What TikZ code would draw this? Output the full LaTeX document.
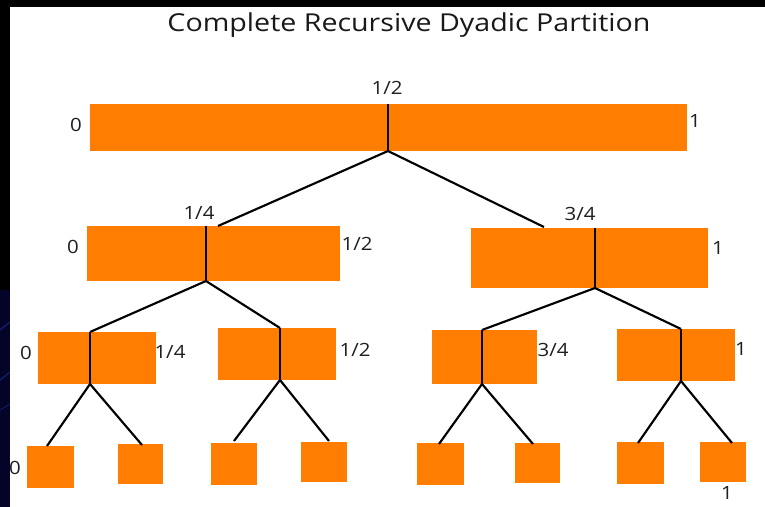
\documentclass[tikz,border=0pt]{standalone}
\usepackage{fontspec}
\setmainfont{Open Sans}
\usetikzlibrary{fit}
\definecolor{barorange}{RGB}{255,125,0}
\definecolor{navyband}{RGB}{4,4,40}
\definecolor{streak}{RGB}{20,30,110}
\begin{document}
\begin{tikzpicture}[x=0.75pt,y=-0.75pt,
  bar/.style={fill=barorange, draw=none, inner sep=0pt, outer sep=0pt},
  ln/.style={line width=1.6pt, black},
  lab/.style={font=\fontsize{13.7}{15}\selectfont, inner sep=0pt, text=black!88, xscale=1.12}]
\useasboundingbox (0,0) rectangle (765,507);
% frame / background
\fill[black] (0,0) rectangle (765,7);
\fill[black] (0,0) rectangle (10,507);
\fill[navyband] (0,290) rectangle (10,507);
\draw[streak, line width=1pt] (0,330) -- (10,322);
\draw[streak, line width=1pt] (0,380) -- (10,372);
\draw[streak, line width=0.6pt] (0,410) -- (10,404);
\fill[white] (10,7) rectangle (765,507);

% title
\node[font=\fontsize{18.5}{20}\selectfont, inner sep=0pt, xscale=1.16, text=black!90] (title) at (409,25) {Complete Recursive Dyadic Partition};

% level 0
\node[bar, fit={(90,104) (687,151)}] (n0) {};
\coordinate (d0t) at (388,104); \coordinate (d0b) at (388,151);
% level 1
\node[bar, fit={(87,226) (340,281)}] (n1a) {};
\coordinate (d1at) at (206,226); \coordinate (d1ab) at (206,281);
\node[bar, fit={(471,228) (708,288)}] (n1b) {};
\coordinate (d1bt) at (595,228); \coordinate (d1bb) at (595,288);
% level 2
\node[bar, fit={(38,332) (156,384)}] (n2a) {};
\coordinate (d2at) at (90,332); \coordinate (d2ab) at (90,384);
\node[bar, fit={(218,328) (336,380)}] (n2b) {};
\coordinate (d2bt) at (280,328); \coordinate (d2bb) at (280,380);
\node[bar, fit={(432,330) (537,384)}] (n2c) {};
\coordinate (d2ct) at (482,330); \coordinate (d2cb) at (482,384);
\node[bar, fit={(617,329) (735,381)}] (n2d) {};
\coordinate (d2dt) at (681,329); \coordinate (d2db) at (681,381);
% level 3
\node[bar, fit={(27,446) (74,488)}] (n3a) {};
\node[bar, fit={(118,444) (163,484)}] (n3b) {};
\node[bar, fit={(211,443) (257,485)}] (n3c) {};
\node[bar, fit={(301,442) (347,482)}] (n3d) {};
\node[bar, fit={(417,443) (464,485)}] (n3e) {};
\node[bar, fit={(515,443) (560,483)}] (n3f) {};
\node[bar, fit={(617,442) (664,484)}] (n3g) {};
\node[bar, fit={(700,442) (746,482)}] (n3h) {};

% connector ends
\coordinate (e1a) at (218,226); \coordinate (e1b) at (544,227);
\coordinate (e3a) at (47,446);  \coordinate (e3b) at (142,445);
\coordinate (e3c) at (234,441); \coordinate (e3d) at (329,441);
\coordinate (e3e) at (439,444); \coordinate (e3f) at (533,444);
\coordinate (e3g) at (638,443); \coordinate (e3h) at (732,443);

% dividers
\draw[ln] (d0t) -- (d0b);
\draw[ln] (d1at) -- (d1ab);
\draw[ln] (d1bt) -- (d1bb);
\draw[ln] (d2at) -- (d2ab);
\draw[ln] (d2bt) -- (d2bb);
\draw[ln] (d2ct) -- (d2cb);
\draw[ln] (d2dt) -- (d2db);

% tree connectors
\draw[ln] (d0b) -- (e1a);
\draw[ln] (d0b) -- (e1b);
\draw[ln] (d1ab) -- (d2at);
\draw[ln] (d1ab) -- (d2bt);
\draw[ln] (d1bb) -- (d2ct);
\draw[ln] (d1bb) -- (d2dt);
\draw[ln] (d2ab) -- (e3a);
\draw[ln] (d2ab) -- (e3b);
\draw[ln] (d2bb) -- (e3c);
\draw[ln] (d2bb) -- (e3d);
\draw[ln] (d2cb) -- (e3e);
\draw[ln] (d2cb) -- (e3f);
\draw[ln] (d2db) -- (e3g);
\draw[ln] (d2db) -- (e3h);

% labels
\node[lab] (l0m) at (387,88) {1/2};
\node[lab] (l0l) at (76,125) {0};
\node[lab] (l0r) at (695,121) {1};
\node[lab] (l1am) at (199,213) {1/4};
\node[lab] (l1al) at (73,247) {0};
\node[lab] (l1ar) at (357,244) {1/2};
\node[lab] (l1bm) at (580,214) {3/4};
\node[lab] (l1br) at (718,248) {1};
\node[lab] (l2al) at (26,353) {0};
\node[lab] (l2ar) at (170,352) {1/4};
\node[lab] (l2br) at (355,350) {1/2};
\node[lab] (l2cr) at (553,350) {3/4};
\node[lab] (l2dr) at (741,349) {1};
\node[lab] (l3al) at (15,468) {0};
\node[lab] (l3hr) at (727,493) {1};
\end{tikzpicture}
\end{document}
